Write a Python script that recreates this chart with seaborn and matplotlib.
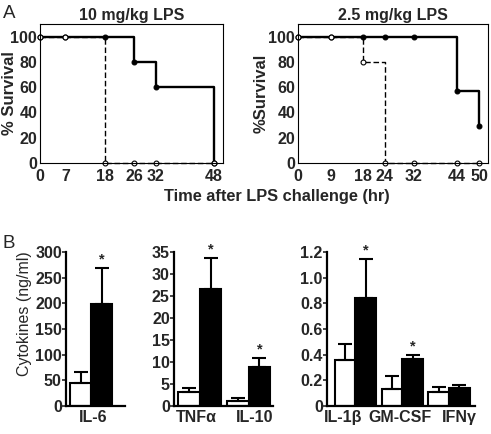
import numpy as np
import pandas as pd
import matplotlib
matplotlib.use("Agg")
import matplotlib.pyplot as plt
import matplotlib.transforms as mtransforms
import seaborn as sns

# survival curves (panel A)
times_10 = [0, 7, 18, 26, 32, 48]
surv_10_solid = [100, 100, 100, 80, 60, 0]
surv_10_dash = [100, 100, 0, 0, 0, 0]

times_25 = [0, 9, 18, 24, 32, 44, 50]
surv_25_solid = [100, 100, 100, 100, 100, 57, 29]
surv_25_dash = [100, 100, 80, 0, 0, 0, 0]

# cytokines (panel B): mean and upper error, white = control, black = treated
cyt1 = ["IL-6"]
ctrl1, ctrl1_err = [45], [22]
trt1, trt1_err = [199], [70]
star1 = [True]

cyt2 = ["TNF\u03b1", "IL-10"]
ctrl2, ctrl2_err = [3.2, 1.1], [0.9, 0.7]
trt2, trt2_err = [26.5, 8.9], [7.1, 2.1]
star2 = [True, True]

cyt3 = ["IL-1\u03b2", "GM-CSF", "IFN\u03b3"]
ctrl3, ctrl3_err = [0.36, 0.13, 0.11], [0.12, 0.10, 0.04]
trt3, trt3_err = [0.84, 0.37, 0.14], [0.305, 0.03, 0.026]
star3 = [True, True, False]

sns.set_style("white")
plt.rcParams['font.family'] = ['Liberation Sans', 'DejaVu Sans']
plt.rcParams['font.weight'] = 'bold'
plt.rcParams['axes.labelweight'] = 'bold'

W, H = 491, 434
fig = plt.figure(figsize=(W / 100, H / 100), dpi=100)
FS = 11.5

def px_axes(x0, y0, x1, y1):
    return fig.add_axes([x0 / W, 1 - y1 / H, (x1 - x0) / W, (y1 - y0) / H])


def survival(ax, t, solid, dash, title, ylab, xmax, xt, labx):
    sns.lineplot(x=t, y=solid, ax=ax, color="black", lw=1.7,
                 drawstyle="steps-post", marker="o", markersize=3.5,
                 markerfacecolor="black", markeredgecolor="black",
                 markeredgewidth=0.8)
    sns.lineplot(x=t, y=dash, ax=ax, color="black", lw=1.0,
                 linestyle=(0, (4, 2)), drawstyle="steps-post", marker="o",
                 markersize=3.5, markerfacecolor="white",
                 markeredgecolor="black", markeredgewidth=0.8)
    ax.set_xlim(0, xmax)
    ax.set_ylim(0, 110)
    ax.set_yticks([0, 20, 40, 60, 80, 100])
    ax.set_xticks(xt)
    ax.tick_params(length=0, labelsize=FS, pad=4)
    ax.tick_params(axis="y", pad=2)
    for s in ax.spines.values():
        s.set_linewidth(0.8)
        s.set_color("black")
    ax.set_title(title, fontsize=11.5, fontweight="bold", pad=3)
    ax.set_ylabel(ylab, fontsize=12)
    ax.yaxis.set_label_coords(labx, 0.5)
    for line in ax.lines:
        line.set_clip_on(False)


axA1 = px_axes(40, 24, 223, 163)
survival(axA1, times_10, surv_10_solid, surv_10_dash, "10 mg/kg LPS",
         "% Survival", 50.5, times_10, -0.125)
axA2 = px_axes(298, 24, 488, 163)
survival(axA2, times_25, surv_25_solid, surv_25_dash, "2.5 mg/kg LPS",
         "%Survival", 52.5, times_25, -0.155)

fig.text(277 / W, 1 - 196 / H, "Time after LPS challenge (hr)", ha="center",
         va="center", fontsize=11.8, fontweight="bold")
fig.text(3 / W, 1 - 13 / H, "A", fontsize=13.5, fontweight="normal", va="center")
fig.text(3 / W, 1 - 244 / H, "B", fontsize=13.5, fontweight="normal", va="center")


def cytokines(ax, names, ctrl, ctrl_err, trt, trt_err, stars, ymax, step,
              xlim, fmt, shifts):
    df = pd.DataFrame({
        "cytokine": names * 2,
        "group": ["ctrl"] * len(names) + ["trt"] * len(names),
        "value": ctrl + trt,
    })
    sns.barplot(data=df, x="cytokine", y="value", hue="group",
                palette=["white", "black"], edgecolor="black", linewidth=1.5,
                width=0.88, errorbar=None, legend=False, ax=ax)
    for cont, means, errs in zip(ax.containers, [ctrl, trt],
                                 [ctrl_err, trt_err]):
        for bar, m, e in zip(cont, means, errs):
            xc = bar.get_x() + bar.get_width() / 2
            ax.errorbar(xc, m, yerr=[[0], [e]], fmt="none", ecolor="black",
                        elinewidth=1.5, capsize=5, capthick=1.5, clip_on=False)
    for bar, m, e, s in zip(ax.containers[1], trt, trt_err, stars):
        if s:
            ax.annotate("*", (bar.get_x() + bar.get_width() / 2, m + e),
                        xytext=(0, 1), textcoords="offset points",
                        ha="center", va="bottom", fontsize=10.5,
                        fontweight="bold", annotation_clip=False)
    ax.set_ylim(0, ymax)
    ticks = np.arange(0, ymax + step / 2, step)
    ax.set_yticks(ticks)
    ax.set_yticklabels([fmt(v) for v in ticks])
    ax.set_xlim(*xlim)
    ax.set_xlabel("")
    ax.set_ylabel("")
    sns.despine(ax=ax)
    for s in ["left", "bottom"]:
        ax.spines[s].set_linewidth(1.6)
        ax.spines[s].set_color("black")
    ax.tick_params(axis="y", length=3, width=1.2, pad=0, labelsize=FS,
                   direction="out", left=True)
    ax.tick_params(axis="x", length=0, pad=3, labelsize=FS)
    for lab, dx in zip(ax.get_xticklabels(), shifts):
        lab.set_transform(lab.get_transform() + mtransforms.ScaledTranslation(
            dx / 100, 0, fig.dpi_scale_trans))


def intfmt(v):
    return "%d" % round(v)


def decfmt(v):
    return "0" if v == 0 else "%.1f" % v


axB1 = px_axes(66, 252, 125, 406)
cytokines(axB1, cyt1, ctrl1, ctrl1_err, trt1, trt1_err, star1, 300, 50,
          (-0.52, 0.7), intfmt, [2])
axB1.set_ylabel("Cytokines (ng/ml)", fontsize=11.5, fontweight="normal")
axB1.yaxis.set_label_coords(-0.58, 0.6)

axB2 = px_axes(174, 252, 273, 406)
cytokines(axB2, cyt2, ctrl2, ctrl2_err, trt2, trt2_err, star2, 35, 5,
          (-0.53, 1.5), intfmt, [-3, 6])

axB3 = px_axes(327, 252, 475, 406)
cytokines(axB3, cyt3, ctrl3, ctrl3_err, trt3, trt3_err, star3, 1.2, 0.2,
          (-0.6, 2.55), decfmt, [-12, -2, 10])

fig.savefig("out.png", dpi=100)
